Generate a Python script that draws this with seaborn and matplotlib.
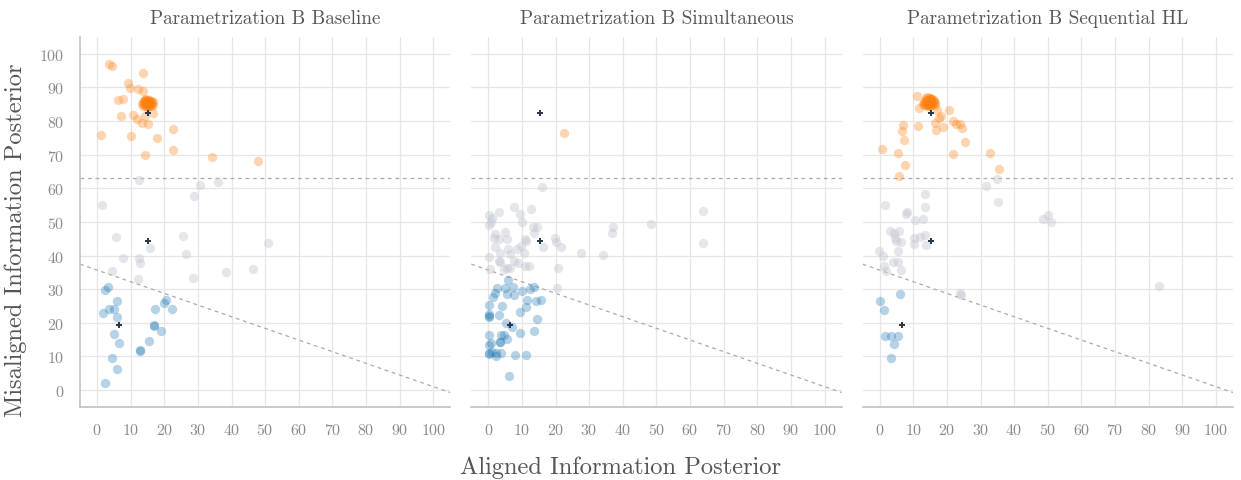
import matplotlib.pyplot as plt
import numpy as np
import pandas as pd
import seaborn as sns

# ---- data ----
titles = ["Parametrization B Baseline", "Parametrization B Simultaneous", "Parametrization B Sequential HL"]

# Baseline
base_orange_x = [3.6, 4.6, 13.8, 9.3, 9.9, 12.2, 13.7, 6.4, 7.7, 16.7, 7.3, 10.6, 11.9, 14.4, 13.4, 15.1,
                 22.7, 1.2, 10.1, 17.9, 14.4, 22.7, 34.3, 48.0]
base_orange_y = [97.0, 96.4, 94.4, 91.4, 89.8, 89.5, 89.0, 86.2, 86.7, 82.4, 81.6, 81.9, 80.6, 81.6, 79.5, 79.0,
                 77.7, 75.8, 75.6, 75.0, 69.8, 71.4, 69.3, 68.0]
base_cluster_x = [13.4, 13.8, 14.2, 14.6, 15.0, 15.4, 15.8, 16.2, 16.6, 13.6, 14.0, 14.4, 14.8, 15.2, 15.6,
                  16.0, 16.4, 16.8, 13.9, 14.3, 14.7, 15.1, 15.5, 15.9, 16.3, 14.5, 15.0, 15.5, 14.2, 15.8]
base_cluster_y = [85.0, 85.6, 86.2, 85.4, 86.0, 85.2, 85.8, 85.0, 85.6, 84.6, 85.2, 84.8, 85.6, 84.7, 85.3,
                  84.9, 85.9, 84.8, 86.1, 86.4, 86.5, 86.3, 86.4, 86.0, 85.4, 84.4, 84.3, 84.5, 85.0, 84.6]
base_grey_x = [12.4, 30.6, 36.1, 28.9, 1.4, 5.8, 25.6, 15.7, 50.8, 26.6, 7.9, 12.6, 12.7, 4.6, 38.3, 46.5, 12.1, 28.6]
base_grey_y = [62.5, 60.9, 61.8, 57.6, 55.1, 45.6, 45.9, 42.2, 43.7, 40.5, 39.3, 39.3, 37.9, 35.3, 35.1, 36.0, 32.9, 33.3]
base_blue_x = [3.4, 2.5, 5.9, 20.6, 19.8, 1.7, 3.6, 5.0, 6.1, 17.3, 22.2, 17.0, 17.1, 19.0, 5.0, 6.7, 15.6,
               12.8, 12.9, 4.4, 5.9, 2.4]
base_blue_y = [30.7, 29.7, 26.6, 26.9, 25.9, 22.8, 24.1, 24.1, 21.7, 24.0, 24.0, 19.3, 19.1, 17.7, 16.6, 14.0, 14.5,
               11.8, 11.6, 9.4, 6.4, 2.2]

# Simultaneous
sim_orange_x = [22.4]
sim_orange_y = [76.5]
sim_grey_x = [16.0, 63.9, 7.7, 12.8, 3.3, 9.3, 0.3, 1.1, 0.9, 0.2, 9.9, 37.1, 48.5, 36.7, 63.8, 13.3, 14.4, 13.7,
              1.9, 5.1, 1.8, 3.3, 5.6, 10.9, 11.1, 19.8, 20.1, 1.9, 5.9, 8.5, 9.6, 16.2, 21.6, 3.5, 6.6, 10.5,
              27.5, 34.2, 0.2, 3.3, 3.6, 7.8, 9.0, 10.9, 12.2, 0.4, 4.6, 5.6, 6.6, 20.7, 20.3]
sim_grey_y = [60.4, 53.3, 54.3, 53.9, 52.9, 52.4, 52.1, 51.3, 50.0, 49.0, 49.9, 48.4, 49.5, 46.7, 43.8, 48.4, 48.4, 46.8,
              46.5, 46.9, 45.1, 44.8, 44.9, 44.8, 44.2, 45.2, 44.0, 42.6, 42.0, 42.1, 42.9, 42.4, 42.4, 40.8, 40.6, 40.7,
              40.8, 40.1, 39.6, 38.3, 38.1, 38.5, 37.8, 37.0, 37.0, 35.9, 35.9, 36.2, 36.3, 36.4, 30.5]
sim_blue_x = [5.9, 2.5, 5.1, 7.3, 13.5, 12.3, 10.0, 1.9, 1.4, 5.6, 7.8, 11.4, 14.2, 15.8, 0.2, 4.2, 11.3, 9.3,
              0.1, 0.1, 0.2, 3.3, 14.4, 5.4, 7.0, 0.2, 3.7, 4.8, 9.3, 3.4, 3.5, 5.7, 13.7, 0.2, 0.9, 0.1, 0.1,
              1.1, 2.3, 2.4, 3.8, 7.9, 11.3, 6.1]
sim_blue_y = [32.8, 30.4, 30.5, 30.7, 30.7, 30.2, 29.5, 29.0, 27.7, 28.6, 28.4, 26.9, 26.4, 26.9, 25.3, 24.9, 24.6, 23.1,
              22.6, 22.1, 21.8, 22.3, 21.0, 19.8, 18.9, 16.5, 16.5, 16.4, 17.1, 14.4, 14.2, 15.1, 17.7, 13.4, 13.9, 11.0, 10.7,
              11.4, 10.0, 10.9, 10.9, 10.4, 10.5, 4.3]

# Sequential HL
seq_orange_x = [11.1, 11.8, 20.6, 17.1, 18.2, 17.7, 16.6, 16.9, 19.0, 21.8, 22.8, 24.0, 24.4, 11.4, 7.0, 6.7, 7.4,
                25.3, 0.7, 5.6, 21.9, 32.8, 7.7, 35.5, 5.7]
seq_orange_y = [87.6, 83.9, 83.3, 83.4, 81.6, 80.8, 79.3, 77.2, 78.2, 80.0, 79.0, 79.1, 78.0, 78.5, 78.8, 77.0, 74.3,
                73.7, 71.6, 70.5, 70.1, 70.4, 67.0, 65.7, 63.6]
seq_cluster_x = [12.9, 13.3, 13.7, 14.1, 14.5, 14.9, 15.3, 15.7, 16.1, 16.5, 13.2, 13.6, 14.0, 14.4, 14.8, 15.2,
                 15.6, 16.0, 16.4, 13.8, 14.2, 14.6, 15.0, 15.4, 15.8, 14.3, 14.7, 15.1, 13.5, 16.2]
seq_cluster_y = [85.2, 85.8, 86.4, 85.6, 86.2, 86.8, 85.9, 86.5, 85.7, 85.3, 84.7, 85.1, 84.9, 85.2, 84.8, 85.4,
                 84.9, 85.1, 84.8, 86.9, 87.1, 86.6, 87.0, 86.6, 86.1, 84.5, 84.6, 84.7, 86.1, 86.3]
seq_grey_x = [35.0, 31.6, 13.4, 35.2, 1.7, 13.4, 7.8, 8.2, 10.5, 12.9, 48.5, 50.1, 50.8, 3.0, 5.9, 4.4, 4.6, 4.9,
              6.3, 10.2, 10.2, 12.1, 13.6, 13.7, -0.1, 1.0, 5.4, 4.0, 5.4, 1.4, 1.9, 6.3, 23.9, 24.2, 83.0]
seq_grey_y = [62.8, 60.7, 58.2, 55.9, 55.0, 54.4, 52.4, 53.0, 50.5, 50.9, 50.9, 52.1, 50.0, 47.3, 47.2, 46.7, 45.3, 44.2,
              44.0, 45.2, 43.5, 45.5, 46.0, 43.0, 41.3, 40.0, 41.3, 38.0, 38.1, 36.9, 35.5, 35.6, 28.8, 28.4, 30.9]
seq_blue_x = [6.2, 0.0, 1.3, 1.7, 3.3, 5.6, 4.3, 3.5]
seq_blue_y = [28.6, 26.6, 23.9, 16.1, 16.1, 16.1, 13.7, 9.6]

# reference markers (same in every panel)
ref_x = [15.3, 15.3, 6.6]
ref_y = [82.4, 44.4, 19.5]

# threshold lines
hline_y = 63.0
diag_intercept = 35.7
diag_slope = -0.347

panels = [
    (base_orange_x + base_cluster_x, base_orange_y + base_cluster_y, base_grey_x, base_grey_y, base_blue_x, base_blue_y),
    (sim_orange_x, sim_orange_y, sim_grey_x, sim_grey_y, sim_blue_x, sim_blue_y),
    (seq_orange_x + seq_cluster_x, seq_orange_y + seq_cluster_y, seq_grey_x, seq_grey_y, seq_blue_x, seq_blue_y),
]

# ---- style ----
sns.set_theme(style="whitegrid")
plt.rcParams["font.family"] = ["cmr10", "DejaVu Serif"]
plt.rcParams["axes.formatter.use_mathtext"] = True
plt.rcParams["mathtext.fontset"] = "cm"

text_col = "#555555"
tick_col = "#8a8a8a"
grid_col = "#e6e6e6"

fig, axes = plt.subplots(1, 3, figsize=(12.41, 4.81), dpi=100, sharey=True)
fig.subplots_adjust(left=0.0645, right=0.9935, bottom=0.152, top=0.921, wspace=0.057)

for i, (ax, title, data) in enumerate(zip(axes, titles, panels)):
    ox, oy, gx, gy, bx, by = data

    sns.scatterplot(x=gx, y=gy, ax=ax, color="#c3c8d1", alpha=0.45, s=45, linewidth=0, zorder=3)
    sns.scatterplot(x=bx, y=by, ax=ax, color="#1f77b4", alpha=0.33, s=45, linewidth=0, zorder=3)
    sns.scatterplot(x=ox, y=oy, ax=ax, color="#ff7f0e", alpha=0.32, s=45, linewidth=0, zorder=3)
    sns.scatterplot(x=ref_x, y=ref_y, ax=ax, color="#2d3848", marker="P", s=20, linewidth=0, zorder=4)

    ax.axhline(hline_y, color="#aaaaaa", linestyle=(0, (3, 3)), linewidth=0.9, zorder=2)
    ax.axline((0, diag_intercept), slope=diag_slope, color="#aaaaaa", linestyle=(0, (3, 3)),
              linewidth=0.9, zorder=2)

    ax.set_xlim(-5, 105)
    ax.set_ylim(-5, 105)
    ax.set_xticks(np.arange(0, 101, 10))
    ax.set_yticks(np.arange(0, 101, 10))
    ax.grid(True, color=grid_col, linewidth=0.9)
    ax.set_title(title, fontsize=13.8, color=text_col, pad=10)

    for side in ["top", "right"]:
        ax.spines[side].set_visible(False)
    ax.spines["bottom"].set_color("#c4c4c4")
    ax.spines["left"].set_color("#c4c4c4")
    ax.tick_params(axis="x", length=7, width=0.9, color="#c4c4c4", labelcolor=tick_col, labelsize=11.5, pad=4)
    if i == 0:
        ax.tick_params(axis="y", length=7, width=0.9, color="#c4c4c4", labelcolor=tick_col, labelsize=11.5, pad=4)
    else:
        ax.spines["left"].set_visible(False)
        ax.tick_params(axis="y", length=0, labelleft=False)

fig.supxlabel("Aligned Information Posterior", fontsize=17.6, color=text_col, y=0.005, va="bottom")
fig.supylabel("Misaligned Information Posterior", fontsize=17.6, color=text_col, x=0.004, ha="left")

fig.savefig("out.png", dpi=100)
